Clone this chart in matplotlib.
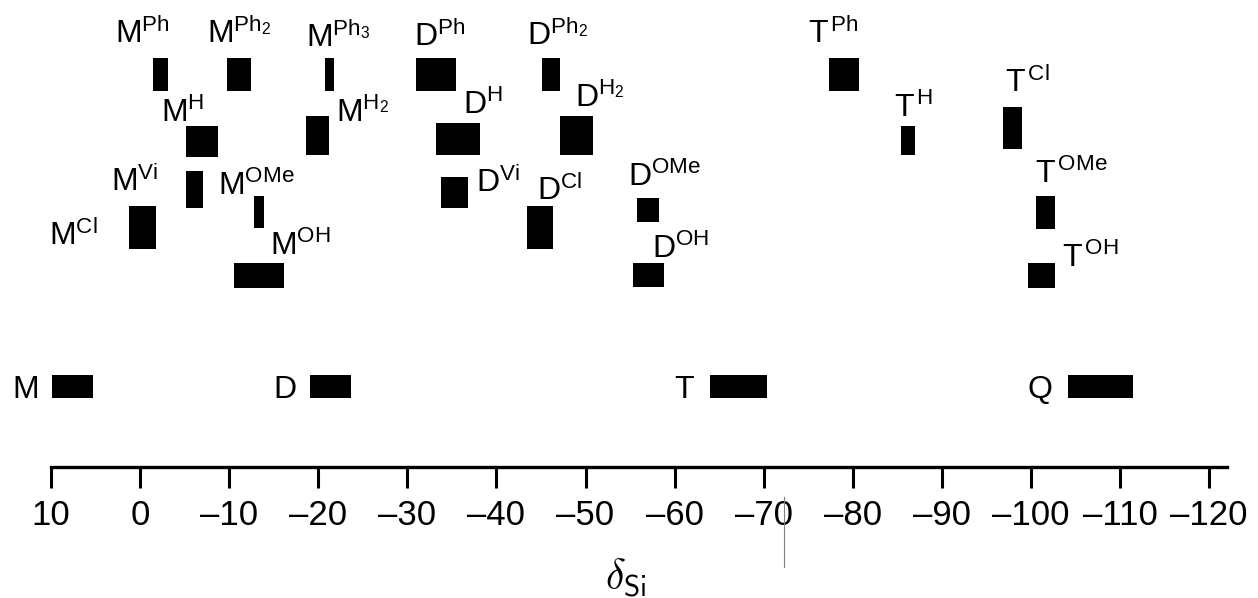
import matplotlib
matplotlib.use("Agg")
from matplotlib import pyplot as plt

plt.rcParams['font.family'] = ['Liberation Sans', 'DejaVu Sans']
plt.rcParams['mathtext.fontset'] = 'custom'
plt.rcParams['mathtext.rm'] = 'Liberation Sans'
plt.rcParams['mathtext.it'] = 'Liberation Sans:italic'
plt.rcParams['mathtext.bf'] = 'Liberation Sans:bold'

# 29Si chemical shift ranges (ppm): high / low end of each bar
units = ['M^{Ph}', 'M^{Ph_2}', 'M^{Ph_3}', 'M^{H}', 'M^{H_2}', 'M^{Vi}', 'M^{OMe}', 'M^{Cl}', 'M^{OH}',
         'D^{Ph}', 'D^{Ph_2}', 'D^{H}', 'D^{H_2}', 'D^{Vi}', 'D^{Cl}', 'D^{OMe}', 'D^{OH}',
         'T^{Ph}', 'T^{H}', 'T^{Cl}', 'T^{OMe}', 'T^{OH}',
         'M', 'D', 'T', 'Q']
shift_hi = [-1.5, -9.8, -20.8, -5.2, -18.6, -5.2, -12.8, 1.3, -10.5,
            -31.0, -45.1, -33.2, -47.1, -33.8, -43.4, -55.8, -55.3,
            -77.3, -85.4, -96.9, -100.6, -99.7,
            9.9, -19.1, -64.0, -104.2]
shift_lo = [-3.1, -12.4, -21.8, -8.7, -21.2, -7.1, -13.9, -1.8, -16.1,
            -35.5, -47.1, -38.2, -50.8, -36.8, -46.3, -58.3, -58.8,
            -80.7, -87.0, -99.0, -102.7, -102.7,
            5.3, -23.7, -70.4, -111.4]

ticks = list(range(10, -121, -10))
tick_labels = [str(t).replace('-', '\u2013') for t in ticks]

# layout (vertical placement in px from top, label anchors)
bar_top = [58, 58, 58, 126, 116, 171, 196, 206, 263,
           58, 58, 123, 116, 177, 206, 198, 263,
           58, 126, 107, 196, 263,
           375, 375, 375, 375]
bar_bot = [91, 91, 91, 157, 155, 208, 228, 249, 288,
           91, 91, 155, 155, 208, 249, 222, 287,
           91, 155, 149, 229, 288,
           398, 398, 398, 398]
lab_x = [2.8, -7.5, -18.6, -2.3, -22.0, 3.3, -8.7, 10.2, -14.6,
         -30.8, -43.4, -36.3, -48.8, -37.7, -44.5, -54.8, -57.5,
         -75.0, -84.6, -97.1, -100.5, -103.5,
         14.3, -15.0, -60.0, -99.6]
lab_y = [43, 43, 47, 122, 122, 191, 195, 245, 255,
         46, 45, 114, 107, 192, 200, 186, 258,
         43, 117, 92, 183, 267,
         398, 398, 398, 398]

fig = plt.figure(figsize=(12.58, 5.98), dpi=100)
ax = fig.add_axes([51/1258, 131/598, (1227-51)/1258, 467/598])
ax.set_xlim(10, -122)
ax.set_ylim(467, 0)

for name, hi, lo, t, b, lx, ly in zip(units, shift_hi, shift_lo, bar_top, bar_bot, lab_x, lab_y):
    ax.barh((t + b) / 2, lo - hi, left=hi, height=b - t, color='black', linewidth=0)
    main, _, sup = name.partition('^')
    if sup:
        sup = sup.strip('{}')
        if '_' in sup:
            base, sub = sup.split('_')
            sup_tex = r'\mathrm{%s}_{\mathrm{%s}}' % (base, sub)
        else:
            sup_tex = r'\mathrm{%s}' % sup
        gap = r'\,' if main == 'T' else ''
        s = r'$\mathrm{%s}^{%s%s}$' % (main, gap, sup_tex)
    else:
        s = main
    ax.text(lx, ly, s, fontsize=23, ha='left', va='baseline')

ax.set_xticks(ticks)
ax.set_xticklabels(tick_labels, fontsize=25)
ax.tick_params(axis='x', direction='out', length=15, width=2.2, pad=8)
ax.set_yticks([])
for sp in ['left', 'right', 'top']:
    ax.spines[sp].set_visible(False)
ax.spines['bottom'].set_linewidth(2.4)

# thin stray line next to the -70 label in the original
ax.plot([-72.3, -72.3], [497, 567], color='gray', lw=0.8, clip_on=False)

ax.text(-54.5, 578, r'$\delta_{\mathsf{Si}}$', fontsize=30, ha='center', va='center',
        math_fontfamily='cm', clip_on=False)

fig.savefig('out.png', dpi=100)
plt.close()
